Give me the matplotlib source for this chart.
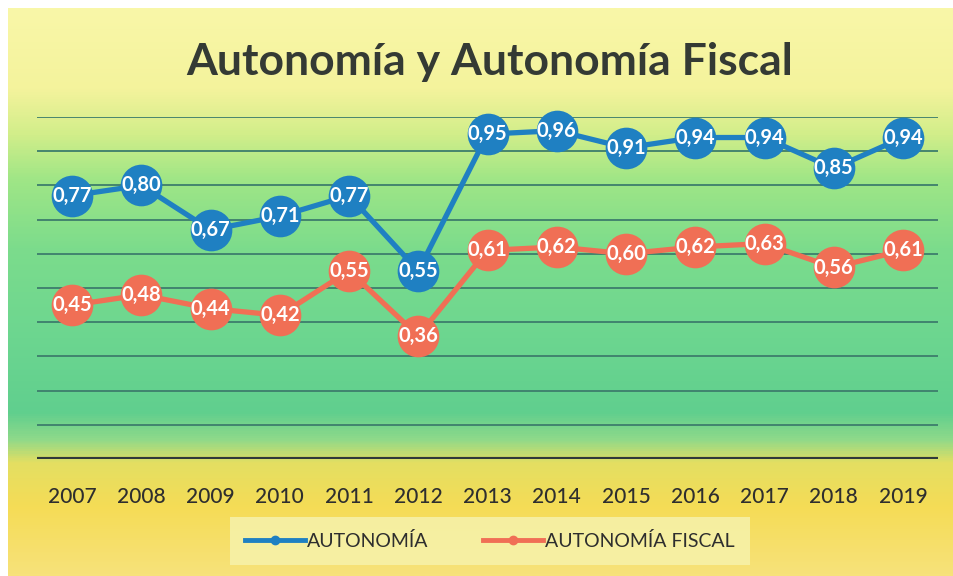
import numpy as np
import matplotlib
matplotlib.use("Agg")
import matplotlib.pyplot as plt
from matplotlib.colors import LinearSegmentedColormap

years = ["2007", "2008", "2009", "2010", "2011", "2012", "2013",
         "2014", "2015", "2016", "2017", "2018", "2019"]
autonomia = [0.77, 0.80, 0.67, 0.71, 0.77, 0.55, 0.95, 0.96, 0.91, 0.94, 0.94, 0.85, 0.94]
autonomia_fiscal = [0.45, 0.48, 0.44, 0.42, 0.55, 0.36, 0.61, 0.62, 0.60, 0.62, 0.63, 0.56, 0.61]
series_names = ["AUTONOMÍA", "AUTONOMÍA FISCAL"]
title = "Autonomía y Autonomía Fiscal"

W, H = 954, 576
fig = plt.figure(figsize=(W / 100, H / 100), dpi=100)
fig.patch.set_facecolor("white")

# background gradient
bg = fig.add_axes([8 / W, 0, 1 - 8 / W, 1 - 8 / H])
stops = [(0, "#f9f7a8"), (80, "#f4f39c"), (125, "#d2ee8a"), (170, "#a0e686"),
         (240, "#7cdc8c"), (330, "#6cd690"), (405, "#60cf8e"), (432, "#8ed98a"),
         (456, "#e4df62"), (500, "#f5dc56"), (568, "#f7e27a")]
tot = 568.0
cmap = LinearSegmentedColormap.from_list("bg", [(p / tot, c) for p, c in stops])
grad = np.linspace(0, 1, 600).reshape(-1, 1)
bg.imshow(grad, aspect="auto", cmap=cmap, extent=[0, 1, 0, 1], origin="upper")
bg.set_axis_off()

left, right = 37.5, 937.6
y0, y1 = 459, 117
ax = fig.add_axes([left / W, (H - y0) / H, (right - left) / W, (y0 - y1) / H])
ax.patch.set_alpha(0)
x = np.arange(len(years))
ax.set_xlim(-0.5, len(years) - 0.5)
ax.set_ylim(0, 1.0)
for v in np.arange(0.1, 1.01, 0.1):
    ax.axhline(v, color="#3d7d6c", lw=1.3, zorder=1)
ax.axhline(0, color="#2f3a3a", lw=3, zorder=2)
for s in ax.spines.values():
    s.set_visible(False)
ax.set_yticks([])
ax.set_xticks(x)
ax.set_xticklabels(years, fontsize=15, color="#2e2e2e", family="Lato", fontweight="medium")
ax.tick_params(axis="x", length=0, pad=20)

blue = "#1f80c2"
orange = "#f06f55"
for vals, col, name in [(autonomia, blue, series_names[0]),
                        (autonomia_fiscal, orange, series_names[1])]:
    ax.plot(x, vals, color=col, lw=3.8, marker="o", markersize=30,
            markeredgewidth=0, zorder=3, clip_on=False, label=name)
    for xi, v in zip(x, vals):
        ax.text(xi, v, f"{v:.2f}".replace(".", ","), ha="center", va="center",
                color="white", fontsize=14.5, fontweight="bold", family="Lato",
                zorder=4)

fig.text(490 / W, 1 - 62 / H, title, ha="center", va="center", fontsize=32,
         fontweight="bold", color="#343a34", family="Lato")

handles = [plt.Line2D([0], [0], color=blue, lw=3.5, marker="o", markersize=6),
           plt.Line2D([0], [0], color=orange, lw=3.5, marker="o", markersize=6)]
leg = fig.legend(handles, series_names, loc="center", bbox_to_anchor=(490 / W, 1 - 541 / H),
                 ncol=2, frameon=True, handlelength=3.1, handletextpad=0.1,
                 columnspacing=2.8, borderpad=0.55, prop={"family": "Lato", "size": 14})
leg.get_frame().set_facecolor("#f6f1a8")
leg.get_frame().set_edgecolor("none")
leg.get_frame().set_alpha(0.9)
leg.get_frame().set_boxstyle("square", pad=0.2)
for t in leg.get_texts():
    t.set_color("#2e2e2e")

fig.savefig("out.png", dpi=100)
